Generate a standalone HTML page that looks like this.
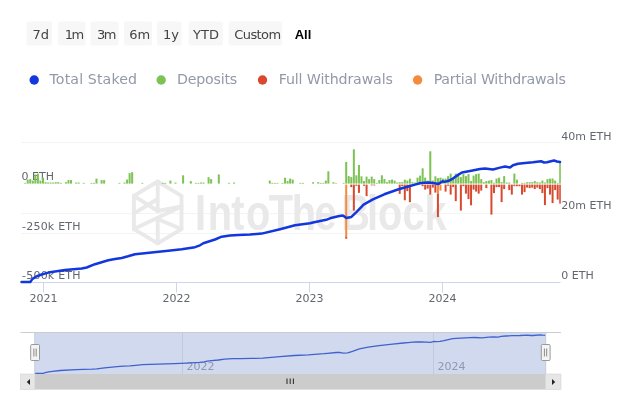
<!DOCTYPE html>
<html lang="en"><head><meta charset="utf-8"><title>Total Staked</title>
<style>
html,body{margin:0;padding:0;background:#fff;}
body{width:630px;height:420px;overflow:hidden;font-family:"DejaVu Sans","Liberation Sans",sans-serif;}
svg{display:block;will-change:transform;}
svg text{font-family:"DejaVu Sans","Liberation Sans",sans-serif;}
.btn{font-size:13px;fill:#444;}
.leg{font-size:14.2px;fill:#9299a7;}
.ax{font-size:11px;fill:#62666f;}
.nav{font-size:11px;fill:#8f98b0;}
</style></head><body>
<svg width="630" height="420" viewBox="0 0 630 420">
<rect width="630" height="420" fill="#ffffff"/>
<!-- range selector -->
<g>
<rect x="26.5" y="21.5" width="25.5" height="24" rx="2" fill="#f7f7f7"/><text class="btn" x="40.8" y="38.5" text-anchor="middle">7d</text>
<rect x="58" y="21.5" width="27.5" height="24" rx="2" fill="#f7f7f7"/><text class="btn" x="74.4" y="38.5" text-anchor="middle" textLength="19.3">1m</text>
<rect x="90.5" y="21.5" width="28" height="24" rx="2" fill="#f7f7f7"/><text class="btn" x="106.7" y="38.5" text-anchor="middle" textLength="19.6">3m</text>
<rect x="124" y="21.5" width="28" height="24" rx="2" fill="#f7f7f7"/><text class="btn" x="139.8" y="38.5" text-anchor="middle">6m</text>
<rect x="157" y="21.5" width="24.5" height="24" rx="2" fill="#f7f7f7"/><text class="btn" x="171" y="38.5" text-anchor="middle">1y</text>
<rect x="188.5" y="21.5" width="34.3" height="24" rx="2" fill="#f7f7f7"/><text class="btn" x="206" y="38.5" text-anchor="middle">YTD</text>
<rect x="228.5" y="21.5" width="53.5" height="24" rx="2" fill="#f7f7f7"/><text class="btn" x="257.75" y="38.5" text-anchor="middle" textLength="46.8">Custom</text>
<text class="btn" x="303" y="38.5" text-anchor="middle" style="font-weight:bold;fill:#000;font-family:'Liberation Sans',sans-serif;font-size:13px">All</text>
</g>
<!-- legend -->
<g>
<circle cx="34.2" cy="80" r="4.7" fill="#1237dc"/><text class="leg" x="49.5" y="83.8" textLength="87.6">Total Staked</text>
<circle cx="161.2" cy="80" r="4.7" fill="#7cc254"/><text class="leg" x="177" y="83.8" textLength="60.2">Deposits</text>
<circle cx="262.5" cy="80" r="4.7" fill="#d84a30"/><text class="leg" x="278.7" y="83.8" textLength="114.2">Full Withdrawals</text>
<circle cx="417.6" cy="80" r="4.7" fill="#f58b3c"/><text class="leg" x="433.7" y="83.8" textLength="132.2">Partial Withdrawals</text>
</g>
<!-- grid -->
<g stroke="#f4f4f4" stroke-width="1">
<line x1="21" x2="560" y1="142.5" y2="142.5"/>
<line x1="21" x2="560" y1="213.5" y2="213.5"/>
<line x1="21" x2="560" y1="233.5" y2="233.5"/>
</g>
<!-- watermark -->
<g fill="none" stroke="#e9e9e9" stroke-width="3.9" stroke-linejoin="round" stroke-linecap="round">
<path d="M157.7 181.5 L181.5 195.8 L181.5 229.1 L157.7 243.4 L133.9 229.1 L133.9 195.8 Z"/>
<path d="M157.7 181.5 L157.7 210 M133.9 195.8 L157.7 211 L181.5 206.5 M133.9 229.1 L181.5 206.5 M133.9 213.5 L157.7 199 M157.7 221 L157.7 243.4 M157.7 219 L181.5 229.1"/>
</g>
<text transform="scale(0.788,1)" x="247.6 263.5 293.4 312.1 341.1 370.3 399.2 433.0 465.7 479.8 510.7 538.7" y="230" style="font-family:'Liberation Sans',sans-serif;font-weight:bold;font-size:50.5px;fill:#e9e9e9">IntoTheBlock</text>
<!-- axis line + ticks -->
<line x1="21" x2="560.5" y1="282.5" y2="282.5" stroke="#ccd6eb" stroke-width="1"/>
<g stroke="#ccd6eb" stroke-width="1">
<line x1="43.5" x2="43.5" y1="282" y2="292.5"/>
<line x1="176.5" x2="176.5" y1="282" y2="292.5"/>
<line x1="309.5" x2="309.5" y1="282" y2="292.5"/>
<line x1="442.5" x2="442.5" y1="282" y2="292.5"/>
</g>
<!-- axis labels -->
<g class="ax">
<text class="ax" x="21.5" y="180.2">0 ETH</text>
<text class="ax" x="22" y="230" textLength="58.6">-250k ETH</text>
<text class="ax" x="22" y="279.3" textLength="58.6">-500k ETH</text>
<text class="ax" x="561.3" y="140.4">40m ETH</text>
<text class="ax" x="561.3" y="209.4">20m ETH</text>
<text class="ax" x="561.3" y="279">0 ETH</text>
<text class="ax" x="43.4" y="302.2" text-anchor="middle">2021</text>
<text class="ax" x="176.5" y="302.2" text-anchor="middle">2022</text>
<text class="ax" x="309.5" y="302.2" text-anchor="middle">2023</text>
<text class="ax" x="442.5" y="302.2" text-anchor="middle">2024</text>
</g>
<!-- bars -->
<g shape-rendering="auto">
<rect x="24.15" y="182.90" width="2.00" height="0.70" fill="#7cc254"/>
<rect x="26.70" y="179.60" width="2.00" height="4.00" fill="#7cc254"/>
<rect x="29.24" y="179.10" width="2.00" height="4.50" fill="#7cc254"/>
<rect x="31.79" y="180.60" width="2.00" height="3.00" fill="#7cc254"/>
<rect x="34.34" y="174.60" width="2.00" height="9.00" fill="#7cc254"/>
<rect x="36.89" y="173.60" width="2.00" height="10.00" fill="#7cc254"/>
<rect x="39.44" y="180.60" width="2.00" height="3.00" fill="#7cc254"/>
<rect x="41.98" y="177.60" width="2.00" height="6.00" fill="#7cc254"/>
<rect x="44.53" y="182.20" width="2.00" height="1.40" fill="#7cc254"/>
<rect x="47.08" y="182.55" width="2.00" height="1.05" fill="#7cc254"/>
<rect x="49.63" y="182.55" width="2.00" height="1.05" fill="#7cc254"/>
<rect x="52.18" y="182.55" width="2.00" height="1.05" fill="#7cc254"/>
<rect x="54.72" y="182.20" width="2.00" height="1.40" fill="#7cc254"/>
<rect x="57.27" y="182.20" width="2.00" height="1.40" fill="#7cc254"/>
<rect x="59.82" y="182.90" width="2.00" height="0.70" fill="#7cc254"/>
<rect x="64.92" y="182.20" width="2.00" height="1.40" fill="#7cc254"/>
<rect x="67.46" y="180.10" width="2.00" height="3.50" fill="#7cc254"/>
<rect x="70.01" y="180.10" width="2.00" height="3.50" fill="#7cc254"/>
<rect x="75.11" y="182.55" width="2.00" height="1.05" fill="#7cc254"/>
<rect x="77.66" y="182.55" width="2.00" height="1.05" fill="#7cc254"/>
<rect x="82.75" y="182.90" width="2.00" height="0.70" fill="#7cc254"/>
<rect x="90.40" y="182.90" width="2.00" height="0.70" fill="#7cc254"/>
<rect x="92.94" y="182.90" width="2.00" height="0.70" fill="#7cc254"/>
<rect x="95.49" y="178.60" width="2.00" height="5.00" fill="#7cc254"/>
<rect x="100.59" y="180.10" width="2.00" height="3.50" fill="#7cc254"/>
<rect x="103.14" y="180.10" width="2.00" height="3.50" fill="#7cc254"/>
<rect x="118.42" y="182.90" width="2.00" height="0.70" fill="#7cc254"/>
<rect x="123.52" y="182.55" width="2.00" height="1.05" fill="#7cc254"/>
<rect x="126.07" y="179.60" width="2.00" height="4.00" fill="#7cc254"/>
<rect x="128.62" y="173.10" width="2.00" height="10.50" fill="#7cc254"/>
<rect x="131.16" y="172.20" width="2.00" height="11.40" fill="#7cc254"/>
<rect x="141.36" y="182.90" width="2.00" height="0.70" fill="#7cc254"/>
<rect x="161.74" y="182.90" width="2.00" height="0.70" fill="#7cc254"/>
<rect x="164.29" y="182.90" width="2.00" height="0.70" fill="#7cc254"/>
<rect x="169.38" y="180.60" width="2.00" height="3.00" fill="#7cc254"/>
<rect x="174.48" y="182.55" width="2.00" height="1.05" fill="#7cc254"/>
<rect x="182.12" y="175.30" width="2.00" height="8.30" fill="#7cc254"/>
<rect x="189.77" y="181.10" width="2.00" height="2.50" fill="#7cc254"/>
<rect x="194.86" y="182.90" width="2.00" height="0.70" fill="#7cc254"/>
<rect x="197.41" y="182.90" width="2.00" height="0.70" fill="#7cc254"/>
<rect x="199.96" y="182.55" width="2.00" height="1.05" fill="#7cc254"/>
<rect x="202.51" y="182.55" width="2.00" height="1.05" fill="#7cc254"/>
<rect x="207.60" y="177.20" width="2.00" height="6.40" fill="#7cc254"/>
<rect x="210.15" y="179.10" width="2.00" height="4.50" fill="#7cc254"/>
<rect x="217.80" y="174.40" width="2.00" height="9.20" fill="#7cc254"/>
<rect x="227.99" y="182.90" width="2.00" height="0.70" fill="#7cc254"/>
<rect x="233.08" y="182.55" width="2.00" height="1.05" fill="#7cc254"/>
<rect x="268.76" y="180.60" width="2.00" height="3.00" fill="#7cc254"/>
<rect x="271.30" y="182.90" width="2.00" height="0.70" fill="#7cc254"/>
<rect x="273.85" y="182.90" width="2.00" height="0.70" fill="#7cc254"/>
<rect x="276.40" y="182.90" width="2.00" height="0.70" fill="#7cc254"/>
<rect x="281.50" y="182.90" width="2.00" height="0.70" fill="#7cc254"/>
<rect x="284.04" y="177.70" width="2.00" height="5.90" fill="#7cc254"/>
<rect x="286.59" y="181.10" width="2.00" height="2.50" fill="#7cc254"/>
<rect x="289.14" y="178.60" width="2.00" height="5.00" fill="#7cc254"/>
<rect x="291.69" y="179.60" width="2.00" height="4.00" fill="#7cc254"/>
<rect x="299.33" y="182.90" width="2.00" height="0.70" fill="#7cc254"/>
<rect x="301.88" y="182.90" width="2.00" height="0.70" fill="#7cc254"/>
<rect x="312.07" y="182.20" width="2.00" height="1.40" fill="#7cc254"/>
<rect x="317.17" y="182.20" width="2.00" height="1.40" fill="#7cc254"/>
<rect x="319.72" y="182.90" width="2.00" height="0.70" fill="#7cc254"/>
<rect x="322.26" y="182.90" width="2.00" height="0.70" fill="#7cc254"/>
<rect x="324.81" y="180.60" width="2.00" height="3.00" fill="#7cc254"/>
<rect x="327.36" y="171.30" width="2.00" height="12.30" fill="#7cc254"/>
<rect x="332.46" y="182.20" width="2.00" height="1.40" fill="#7cc254"/>
<rect x="335.00" y="183.11" width="2.00" height="0.49" fill="#7cc254"/>
<rect x="342.65" y="182.90" width="2.00" height="0.70" fill="#7cc254"/>
<rect x="345.20" y="161.90" width="2.00" height="21.70" fill="#7cc254"/>
<rect x="347.74" y="176.10" width="2.00" height="7.50" fill="#7cc254"/>
<rect x="350.29" y="177.10" width="2.00" height="6.50" fill="#7cc254"/>
<rect x="352.84" y="149.30" width="2.00" height="34.30" fill="#7cc254"/>
<rect x="355.39" y="175.30" width="2.00" height="8.30" fill="#7cc254"/>
<rect x="357.94" y="164.90" width="2.00" height="18.70" fill="#7cc254"/>
<rect x="360.48" y="176.30" width="2.00" height="7.30" fill="#7cc254"/>
<rect x="363.03" y="181.10" width="2.00" height="2.50" fill="#7cc254"/>
<rect x="365.58" y="176.60" width="2.00" height="7.00" fill="#7cc254"/>
<rect x="368.13" y="179.10" width="2.00" height="4.50" fill="#7cc254"/>
<rect x="370.68" y="176.60" width="2.00" height="7.00" fill="#7cc254"/>
<rect x="373.22" y="179.10" width="2.00" height="4.50" fill="#7cc254"/>
<rect x="375.77" y="182.90" width="2.00" height="0.70" fill="#7cc254"/>
<rect x="378.32" y="180.10" width="2.00" height="3.50" fill="#7cc254"/>
<rect x="380.87" y="175.30" width="2.00" height="8.30" fill="#7cc254"/>
<rect x="383.42" y="179.10" width="2.00" height="4.50" fill="#7cc254"/>
<rect x="385.96" y="182.20" width="2.00" height="1.40" fill="#7cc254"/>
<rect x="388.51" y="180.10" width="2.00" height="3.50" fill="#7cc254"/>
<rect x="391.06" y="179.60" width="2.00" height="4.00" fill="#7cc254"/>
<rect x="393.61" y="180.60" width="2.00" height="3.00" fill="#7cc254"/>
<rect x="396.16" y="182.55" width="2.00" height="1.05" fill="#7cc254"/>
<rect x="398.70" y="182.20" width="2.00" height="1.40" fill="#7cc254"/>
<rect x="401.25" y="182.20" width="2.00" height="1.40" fill="#7cc254"/>
<rect x="403.80" y="179.60" width="2.00" height="4.00" fill="#7cc254"/>
<rect x="406.35" y="180.60" width="2.00" height="3.00" fill="#7cc254"/>
<rect x="408.90" y="178.60" width="2.00" height="5.00" fill="#7cc254"/>
<rect x="411.44" y="182.20" width="2.00" height="1.40" fill="#7cc254"/>
<rect x="413.99" y="182.55" width="2.00" height="1.05" fill="#7cc254"/>
<rect x="416.54" y="177.60" width="2.00" height="6.00" fill="#7cc254"/>
<rect x="419.09" y="175.60" width="2.00" height="8.00" fill="#7cc254"/>
<rect x="421.64" y="168.30" width="2.00" height="15.30" fill="#7cc254"/>
<rect x="424.18" y="177.60" width="2.00" height="6.00" fill="#7cc254"/>
<rect x="426.73" y="180.60" width="2.00" height="3.00" fill="#7cc254"/>
<rect x="429.28" y="151.30" width="2.00" height="32.30" fill="#7cc254"/>
<rect x="431.83" y="180.60" width="2.00" height="3.00" fill="#7cc254"/>
<rect x="434.38" y="176.30" width="2.00" height="7.30" fill="#7cc254"/>
<rect x="436.92" y="178.10" width="2.00" height="5.50" fill="#7cc254"/>
<rect x="439.47" y="177.60" width="2.00" height="6.00" fill="#7cc254"/>
<rect x="442.02" y="178.60" width="2.00" height="5.00" fill="#7cc254"/>
<rect x="444.57" y="178.60" width="2.00" height="5.00" fill="#7cc254"/>
<rect x="447.12" y="176.10" width="2.00" height="7.50" fill="#7cc254"/>
<rect x="449.66" y="173.60" width="2.00" height="10.00" fill="#7cc254"/>
<rect x="452.21" y="178.10" width="2.00" height="5.50" fill="#7cc254"/>
<rect x="454.76" y="173.60" width="2.00" height="10.00" fill="#7cc254"/>
<rect x="457.31" y="176.10" width="2.00" height="7.50" fill="#7cc254"/>
<rect x="459.86" y="177.10" width="2.00" height="6.50" fill="#7cc254"/>
<rect x="462.40" y="174.10" width="2.00" height="9.50" fill="#7cc254"/>
<rect x="464.95" y="176.10" width="2.00" height="7.50" fill="#7cc254"/>
<rect x="467.50" y="174.10" width="2.00" height="9.50" fill="#7cc254"/>
<rect x="470.05" y="181.10" width="2.00" height="2.50" fill="#7cc254"/>
<rect x="472.60" y="175.60" width="2.00" height="8.00" fill="#7cc254"/>
<rect x="475.14" y="174.10" width="2.00" height="9.50" fill="#7cc254"/>
<rect x="477.69" y="173.60" width="2.00" height="10.00" fill="#7cc254"/>
<rect x="480.24" y="179.10" width="2.00" height="4.50" fill="#7cc254"/>
<rect x="482.79" y="182.20" width="2.00" height="1.40" fill="#7cc254"/>
<rect x="485.34" y="181.10" width="2.00" height="2.50" fill="#7cc254"/>
<rect x="487.88" y="180.60" width="2.00" height="3.00" fill="#7cc254"/>
<rect x="490.43" y="180.10" width="2.00" height="3.50" fill="#7cc254"/>
<rect x="492.98" y="182.90" width="2.00" height="0.70" fill="#7cc254"/>
<rect x="495.53" y="178.60" width="2.00" height="5.00" fill="#7cc254"/>
<rect x="498.08" y="177.60" width="2.00" height="6.00" fill="#7cc254"/>
<rect x="500.62" y="182.20" width="2.00" height="1.40" fill="#7cc254"/>
<rect x="503.17" y="176.10" width="2.00" height="7.50" fill="#7cc254"/>
<rect x="505.72" y="182.55" width="2.00" height="1.05" fill="#7cc254"/>
<rect x="508.27" y="182.55" width="2.00" height="1.05" fill="#7cc254"/>
<rect x="513.36" y="173.60" width="2.00" height="10.00" fill="#7cc254"/>
<rect x="515.91" y="179.60" width="2.00" height="4.00" fill="#7cc254"/>
<rect x="521.01" y="182.90" width="2.00" height="0.70" fill="#7cc254"/>
<rect x="523.56" y="182.90" width="2.00" height="0.70" fill="#7cc254"/>
<rect x="526.10" y="182.20" width="2.00" height="1.40" fill="#7cc254"/>
<rect x="528.65" y="182.20" width="2.00" height="1.40" fill="#7cc254"/>
<rect x="531.20" y="182.20" width="2.00" height="1.40" fill="#7cc254"/>
<rect x="533.75" y="181.10" width="2.00" height="2.50" fill="#7cc254"/>
<rect x="536.30" y="182.20" width="2.00" height="1.40" fill="#7cc254"/>
<rect x="538.84" y="182.55" width="2.00" height="1.05" fill="#7cc254"/>
<rect x="541.39" y="180.60" width="2.00" height="3.00" fill="#7cc254"/>
<rect x="543.94" y="182.55" width="2.00" height="1.05" fill="#7cc254"/>
<rect x="546.49" y="179.10" width="2.00" height="4.50" fill="#7cc254"/>
<rect x="549.04" y="178.60" width="2.00" height="5.00" fill="#7cc254"/>
<rect x="551.58" y="178.60" width="2.00" height="5.00" fill="#7cc254"/>
<rect x="554.13" y="180.60" width="2.00" height="3.00" fill="#7cc254"/>
<rect x="556.68" y="182.90" width="2.00" height="0.70" fill="#7cc254"/>
<rect x="559.23" y="162.10" width="1.57" height="21.50" fill="#7cc254"/>
<rect x="345.20" y="184.60" width="2.00" height="51.90" fill="#f58b3c"/>
<rect x="345.20" y="236.50" width="2.00" height="2.20" fill="#d84a30"/>
<rect x="350.29" y="184.60" width="2.00" height="2.50" fill="#d84a30"/>
<rect x="352.84" y="184.60" width="2.00" height="26.00" fill="#d84a30"/>
<rect x="355.39" y="184.60" width="2.00" height="1.20" fill="#d84a30"/>
<rect x="357.94" y="184.60" width="2.00" height="8.30" fill="#d84a30"/>
<rect x="363.03" y="184.60" width="2.00" height="1.20" fill="#d84a30"/>
<rect x="365.58" y="184.60" width="2.00" height="11.50" fill="#d84a30"/>
<rect x="370.68" y="184.60" width="2.00" height="0.80" fill="#d84a30"/>
<rect x="373.22" y="184.60" width="2.00" height="0.80" fill="#d84a30"/>
<rect x="398.70" y="184.60" width="2.00" height="9.30" fill="#d84a30"/>
<rect x="401.25" y="184.60" width="2.00" height="1.60" fill="#d84a30"/>
<rect x="403.80" y="184.60" width="2.00" height="15.70" fill="#d84a30"/>
<rect x="406.35" y="184.60" width="2.00" height="6.50" fill="#d84a30"/>
<rect x="408.90" y="184.60" width="2.00" height="17.60" fill="#d84a30"/>
<rect x="421.64" y="184.60" width="2.00" height="1.60" fill="#d84a30"/>
<rect x="424.18" y="184.60" width="2.00" height="5.00" fill="#d84a30"/>
<rect x="426.73" y="184.60" width="2.00" height="4.00" fill="#d84a30"/>
<rect x="429.28" y="184.60" width="2.00" height="10.00" fill="#d84a30"/>
<rect x="431.83" y="184.60" width="2.00" height="3.00" fill="#d84a30"/>
<rect x="434.38" y="184.60" width="2.00" height="8.00" fill="#d84a30"/>
<rect x="436.92" y="184.60" width="2.00" height="9.00" fill="#f58b3c"/>
<rect x="436.92" y="193.60" width="2.00" height="23.50" fill="#d84a30"/>
<rect x="444.57" y="184.60" width="2.00" height="7.00" fill="#d84a30"/>
<rect x="447.12" y="184.60" width="2.00" height="1.20" fill="#d84a30"/>
<rect x="449.66" y="184.60" width="2.00" height="10.00" fill="#d84a30"/>
<rect x="452.21" y="184.60" width="2.00" height="2.50" fill="#d84a30"/>
<rect x="454.76" y="184.60" width="2.00" height="16.50" fill="#d84a30"/>
<rect x="459.86" y="184.60" width="2.00" height="26.00" fill="#d84a30"/>
<rect x="462.40" y="184.60" width="2.00" height="1.60" fill="#d84a30"/>
<rect x="464.95" y="184.60" width="2.00" height="9.00" fill="#d84a30"/>
<rect x="467.50" y="184.60" width="2.00" height="14.50" fill="#d84a30"/>
<rect x="470.05" y="184.60" width="2.00" height="20.70" fill="#d84a30"/>
<rect x="472.60" y="184.60" width="2.00" height="5.00" fill="#d84a30"/>
<rect x="475.14" y="184.60" width="2.00" height="7.00" fill="#d84a30"/>
<rect x="477.69" y="184.60" width="2.00" height="9.00" fill="#d84a30"/>
<rect x="480.24" y="184.60" width="2.00" height="6.00" fill="#d84a30"/>
<rect x="485.34" y="184.60" width="2.00" height="3.50" fill="#d84a30"/>
<rect x="490.43" y="184.60" width="2.00" height="30.00" fill="#d84a30"/>
<rect x="492.98" y="184.60" width="2.00" height="8.50" fill="#d84a30"/>
<rect x="495.53" y="184.60" width="2.00" height="2.50" fill="#d84a30"/>
<rect x="498.08" y="184.60" width="2.00" height="2.50" fill="#d84a30"/>
<rect x="500.62" y="184.60" width="2.00" height="17.50" fill="#d84a30"/>
<rect x="503.17" y="184.60" width="2.00" height="4.50" fill="#d84a30"/>
<rect x="508.27" y="184.60" width="2.00" height="5.50" fill="#d84a30"/>
<rect x="510.82" y="184.60" width="2.00" height="10.00" fill="#d84a30"/>
<rect x="513.36" y="184.60" width="2.00" height="1.60" fill="#d84a30"/>
<rect x="515.91" y="184.60" width="2.00" height="1.60" fill="#d84a30"/>
<rect x="518.46" y="184.60" width="2.00" height="1.60" fill="#d84a30"/>
<rect x="521.01" y="184.60" width="2.00" height="10.00" fill="#d84a30"/>
<rect x="523.56" y="184.60" width="2.00" height="7.50" fill="#d84a30"/>
<rect x="526.10" y="184.60" width="2.00" height="3.00" fill="#d84a30"/>
<rect x="528.65" y="184.60" width="2.00" height="3.50" fill="#d84a30"/>
<rect x="531.20" y="184.60" width="2.00" height="3.00" fill="#d84a30"/>
<rect x="533.75" y="184.60" width="2.00" height="4.50" fill="#d84a30"/>
<rect x="536.30" y="184.60" width="2.00" height="3.00" fill="#d84a30"/>
<rect x="538.84" y="184.60" width="2.00" height="4.50" fill="#d84a30"/>
<rect x="541.39" y="184.60" width="2.00" height="8.50" fill="#d84a30"/>
<rect x="543.94" y="184.60" width="2.00" height="20.50" fill="#d84a30"/>
<rect x="546.49" y="184.60" width="2.00" height="3.50" fill="#d84a30"/>
<rect x="549.04" y="184.60" width="2.00" height="10.00" fill="#d84a30"/>
<rect x="551.58" y="184.60" width="2.00" height="18.50" fill="#d84a30"/>
<rect x="554.13" y="184.60" width="2.00" height="5.50" fill="#d84a30"/>
<rect x="556.68" y="184.60" width="2.00" height="15.00" fill="#d84a30"/>
<rect x="559.23" y="184.60" width="1.57" height="19.00" fill="#d84a30"/>
<rect x="439.47" y="184.60" width="2.00" height="6.00" fill="#f58b3c"/>
</g>
<!-- line -->
<path d="M21.5 282.0 L30.3 282.0 L32.5 278.9 L36.0 276.7 L40.0 275.0 L48.3 272.6 L65.0 270.0 L81.7 268.4 L86.7 267.5 L95.0 264.2 L108.3 260.3 L115.0 259.0 L121.7 258.0 L128.0 256.3 L135.0 254.2 L151.7 252.5 L168.3 250.8 L181.7 249.2 L195.0 247.2 L200.0 245.3 L203.3 243.3 L208.0 241.8 L215.0 239.5 L221.7 236.7 L230.0 235.5 L238.3 235.1 L250.0 234.5 L261.7 233.6 L280.0 229.2 L295.0 225.3 L310.0 223.3 L313.0 222.5 L326.2 219.8 L330.0 218.3 L339.3 216.0 L342.9 215.4 L346.4 217.9 L351.4 216.9 L356.4 212.1 L363.6 204.6 L372.9 199.3 L384.3 194.3 L398.6 189.3 L410.0 186.0 L415.0 184.6 L420.0 183.3 L424.3 182.7 L428.6 182.5 L434.3 183.2 L438.6 183.9 L441.4 182.0 L442.9 181.3 L444.3 181.9 L448.6 180.8 L452.9 178.6 L455.0 177.0 L458.5 174.6 L462.0 172.5 L470.0 171.0 L480.0 169.0 L485.0 168.5 L493.0 169.5 L500.0 167.6 L505.0 166.5 L510.0 167.5 L513.0 165.2 L518.0 163.8 L525.0 163.0 L533.0 162.2 L541.0 161.2 L544.0 162.5 L547.0 162.3 L554.0 160.5 L557.0 161.5 L560.0 162.0" fill="none" stroke="#1237dc" stroke-width="2.5" stroke-linejoin="round" stroke-linecap="round"/>
<!-- navigator -->
<g>
<rect x="34.8" y="333" width="510.9" height="41" fill="#d0d9ee"/>
<line x1="182.5" x2="182.5" y1="332.5" y2="374" stroke="#c2c9da" stroke-width="1"/>
<line x1="433.5" x2="433.5" y1="332.5" y2="374" stroke="#c2c9da" stroke-width="1"/>
<text class="nav" x="186.5" y="369.7">2022</text>
<text class="nav" x="437.5" y="369.7">2024</text>
<path d="M34.8 373.5 L43.1 373.5 L45.2 372.5 L48.6 371.8 L52.4 371.3 L60.2 370.5 L76.1 369.7 L91.9 369.2 L96.7 368.9 L104.5 367.8 L117.1 366.6 L123.5 366.2 L129.9 365.9 L135.8 365.3 L142.5 364.7 L158.3 364.1 L174.1 363.6 L186.8 363.1 L199.4 362.4 L204.1 361.8 L207.3 361.2 L211.7 360.7 L218.4 360.0 L224.7 359.1 L232.6 358.7 L240.5 358.6 L251.6 358.4 L262.7 358.1 L280.0 356.7 L294.3 355.5 L308.5 354.9 L311.3 354.6 L323.9 353.7 L327.5 353.3 L336.3 352.5 L339.7 352.3 L343.0 353.1 L347.8 352.8 L352.5 351.3 L359.4 348.9 L368.2 347.2 L379.0 345.6 L392.6 344.1 L403.4 343.0 L408.1 342.6 L412.9 342.2 L416.9 342.0 L421.0 341.9 L426.4 342.1 L430.5 342.3 L433.2 341.7 L434.6 341.5 L435.9 341.7 L440.0 341.4 L444.1 340.7 L446.1 340.2 L449.4 339.4 L452.7 338.7 L460.3 338.2 L469.8 337.6 L474.5 337.5 L482.1 337.8 L488.8 337.2 L493.5 336.8 L498.2 337.1 L501.1 336.4 L505.8 336.0 L512.5 335.7 L520.1 335.5 L527.6 335.1 L530.5 335.5 L533.3 335.5 L540.0 334.9 L542.8 335.2 L545.7 335.4" fill="none" stroke="#3f62cf" stroke-width="1.3"/>
<path d="M20.5 332.5 L561 332.5" stroke="#cccccc" stroke-width="1" fill="none"/>
<!-- scrollbar -->
<rect x="20.5" y="374" width="540.5" height="15.5" fill="#f2f2f2"/>
<rect x="34.8" y="374" width="510.9" height="15.5" fill="#cccccc"/>
<rect x="20.5" y="374" width="14.3" height="15.5" fill="#e6e6e6" stroke="#d4d4d4" stroke-width="0.6"/>
<rect x="545.7" y="374" width="15.3" height="15.5" fill="#e6e6e6" stroke="#d4d4d4" stroke-width="0.6"/>
<path d="M30 379 L30 385 L26.8 382 Z" fill="#222"/>
<path d="M552 379 L552 385 L555.2 382 Z" fill="#222"/>
<path d="M287 378.5 V384 M290.2 378.5 V384 M293.4 378.5 V384" stroke="#333" stroke-width="1.1"/>
<!-- handles -->
<path d="M34.8 333 V374 M545.7 333 V374" stroke="#c4cbdc" stroke-width="1"/>
<rect x="30.7" y="344.5" width="8.8" height="16" rx="1" fill="#f4f4f4" stroke="#999999" stroke-width="1"/>
<path d="M33.9 348.5 V356.5 M36.2 348.5 V356.5" stroke="#888" stroke-width="1"/>
<rect x="541.3" y="344.5" width="8.8" height="16" rx="1" fill="#f4f4f4" stroke="#999999" stroke-width="1"/>
<path d="M544.4 348.5 V356.5 M546.7 348.5 V356.5" stroke="#888" stroke-width="1"/>
</g>
</svg>
</body></html>
